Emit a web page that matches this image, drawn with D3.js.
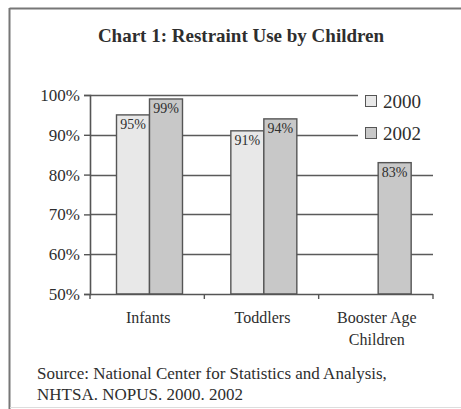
<!DOCTYPE html>
<html><head><meta charset="utf-8">
<script src="https://cdn.jsdelivr.net/npm/d3@7"></script>
<style>body{margin:0;background:#fff}svg{display:block}</style>
</head><body>
<svg id="c" width="461" height="409"></svg>
<script>
const categories = ["Infants", "Toddlers", "Booster Age|Children"];
const years = ["2000", "2002"];
const values2000 = [95, 91, null];
const values2002 = [99, 94, 83];
const yTicks = [50, 60, 70, 80, 90, 100];
const title = "Chart 1: Restraint Use by Children";
const sourceLines = ["Source: National Center for Statistics and Analysis,", "NHTSA. NOPUS. 2000. 2002"];
const colors = {"2000": "#e8e8e8", "2002": "#c8c8c8"};

(function () {
const svg = d3.select("#c");
const font = "'Liberation Serif','Times New Roman',serif";
const ink = "#2e2e2e";

// frame
svg.append("line").attr("x1", 9.5).attr("x2", 461).attr("y1", 8.5).attr("y2", 8.5).attr("stroke", "#777").attr("stroke-width", 2);
svg.append("line").attr("x1", 9.5).attr("x2", 9.5).attr("y1", 8).attr("y2", 409).attr("stroke", "#777").attr("stroke-width", 2);
svg.append("line").attr("x1", 10).attr("x2", 461).attr("y1", 407.5).attr("y2", 407.5).attr("stroke", "#ddd").attr("stroke-width", 1);

svg.append("text").attr("x", 241).attr("y", 42).attr("text-anchor", "middle")
  .style("font-family", font).attr("font-weight", "bold").attr("font-size", 19).attr("fill", ink).text(title);

const pl = 90, pr = 433, pt = 95, pb = 294;
const y = d3.scaleLinear().domain([50, 100]).range([pb, pt]);
const x0 = d3.scaleBand().domain(categories).range([pl, pr]);
const x1 = d3.scaleBand().domain(years).range([26, 92]);

const g = svg.append("g");
// gridlines
g.selectAll("line.grid").data(yTicks.slice(1)).join("line")
  .attr("x1", pl).attr("x2", pr).attr("y1", d => Math.round(y(d)) + 0.5).attr("y2", d => Math.round(y(d)) + 0.5)
  .attr("stroke", "#5a5a5a").attr("stroke-width", 1.4);

// legend (white box covers gridlines)
const lg = svg.append("g");
lg.append("rect").attr("x", 358).attr("y", 88).attr("width", 78).attr("height", 56).attr("fill", "#fff");
years.forEach((yr, i) => {
  const yy = 95 + i * 32;
  lg.append("rect").attr("x", 365.5).attr("y", yy + 0.5).attr("width", 11).attr("height", 11)
    .attr("fill", colors[yr]).attr("stroke", "#555").attr("stroke-width", 1);
  lg.append("text").attr("x", 383).attr("y", yy + 12.5).style("font-family", font).attr("font-size", 19)
    .attr("fill", ink).text(yr);
});

// bars
const data = [];
categories.forEach((c, i) => {
  data.push({cat: c, year: "2000", v: values2000[i]});
  data.push({cat: c, year: "2002", v: values2002[i]});
});
const bars = data.filter(d => d.v != null);
g.selectAll("rect.bar").data(bars).join("rect")
  .attr("x", d => x0(d.cat) + x1(d.year) + 0.5)
  .attr("y", d => y(d.v))
  .attr("width", x1.bandwidth())
  .attr("height", d => pb - y(d.v))
  .attr("fill", d => colors[d.year]).attr("stroke", "#555").attr("stroke-width", 1.4);
g.selectAll("text.lbl").data(bars).join("text")
  .attr("x", d => x0(d.cat) + x1(d.year) + x1.bandwidth() / 2 + 0.5)
  .attr("y", d => y(d.v) + 14)
  .attr("text-anchor", "middle").style("font-family", font).attr("font-size", 14).attr("fill", ink)
  .text(d => d.v + "%");

// y axis
const yAxis = d3.axisLeft(y).tickValues(yTicks).tickSize(6).tickPadding(4).tickFormat(d => d + "%");
const ya = svg.append("g").attr("transform", `translate(${pl},0)`).call(yAxis);
ya.attr("font-family", null);
ya.select(".domain").attr("stroke", "#555").attr("stroke-width", 1.6);
ya.selectAll(".tick line").attr("stroke", "#555").attr("stroke-width", 1.4);
ya.selectAll(".tick text").style("font-family", font).attr("font-size", 17).attr("fill", ink);

// x axis
const xa = svg.append("g").attr("transform", `translate(0,${pb})`);
xa.append("line").attr("x1", pl).attr("x2", pr).attr("y1", 0.5).attr("y2", 0.5).attr("stroke", "#555").attr("stroke-width", 1.6);
const bounds = categories.map(c => x0(c)).concat([pr]);
xa.selectAll("line.tk").data(bounds).join("line")
  .attr("x1", d => d).attr("x2", d => d).attr("y1", 0).attr("y2", 5).attr("stroke", "#555").attr("stroke-width", 1.4);
categories.forEach(c => {
  const parts = c.split("|");
  const cx = x0(c) + x0.bandwidth() / 2 + 1;
  parts.forEach((p, i) => {
    xa.append("text").attr("x", cx).attr("y", 29 + i * 22).attr("text-anchor", "middle")
      .style("font-family", font).attr("font-size", 16).attr("fill", ink).text(p);
  });
});

// source
sourceLines.forEach((s, i) => {
  svg.append("text").attr("x", 37).attr("y", 379 + i * 21).style("font-family", font).attr("font-size", 17)
    .attr("fill", ink).text(s);
});
})();
</script>
</body></html>
